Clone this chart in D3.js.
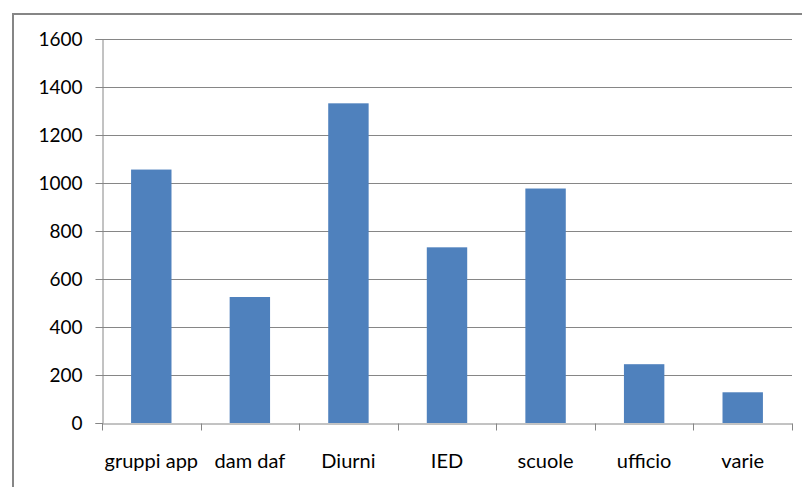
<!DOCTYPE html>
<html>
<head>
<meta charset="utf-8" />
<script src="https://d3js.org/d3.v7.min.js"></script>
<style>
  body { margin: 0; background: #fff; }
  text { font-family: Lato, "Open Sans", sans-serif; fill: #000; }
</style>
</head>
<body>
<svg width="802" height="487"></svg>
<script>
// Data
var categories = ["gruppi app", "dam daf", "Diurni", "IED", "scuole", "ufficio", "varie"];
var values = [1056, 525, 1332, 732, 977, 245, 128];
var yTicks = [0, 200, 400, 600, 800, 1000, 1200, 1400, 1600];

var svg = d3.select("svg");

// outer chart border (runs off the right/bottom edge)
svg.append("rect")
  .attr("x", 13).attr("y", 14)
  .attr("width", 820).attr("height", 500)
  .attr("fill", "#fff")
  .attr("stroke", "#868686")
  .attr("stroke-width", 2);

var margin = { top: 39, left: 102 },
  width = 690,
  height = 384;

var x = d3.scaleBand().domain(categories).range([0, width]).paddingInner(0.59).paddingOuter(0.295);
var xTick = d3.scaleBand().domain(categories).range([0, width]);
var y = d3.scaleLinear().domain([0, 1600]).range([height, 0]);

var g = svg.append("g").attr("transform", "translate(" + margin.left + "," + margin.top + ")");

// gridlines
g.selectAll(".grid")
  .data(yTicks.slice(1))
  .enter().append("line")
  .attr("x1", 0).attr("x2", width)
  .attr("y1", function (d) { return Math.round(y(d)) + 0.5; })
  .attr("y2", function (d) { return Math.round(y(d)) + 0.5; })
  .attr("stroke", "#868686");

// bars
g.selectAll(".bar")
  .data(values)
  .enter().append("rect")
  .attr("x", function (d, i) { return x(categories[i]); })
  .attr("y", function (d) { return y(d); })
  .attr("width", x.bandwidth())
  .attr("height", function (d) { return height - y(d); })
  .attr("fill", "#4F81BD");

// y axis
var yAxis = g.append("g")
  .attr("transform", "translate(0.5,0)")
  .call(d3.axisLeft(y).tickValues(yTicks).tickSize(7).tickPadding(13).tickFormat(d3.format("d")));

// x axis with ticks at band edges
var xAxis = g.append("g")
  .attr("transform", "translate(0," + (height + 0.5) + ")")
  .call(d3.axisBottom(x).tickSize(0).tickPadding(30));
xAxis.selectAll(".edge")
  .data(categories.concat([null]))
  .enter().append("line")
  .attr("x1", function (d, i) { return Math.round(i * xTick.step()) + 0.5; })
  .attr("x2", function (d, i) { return Math.round(i * xTick.step()) + 0.5; })
  .attr("y1", 0).attr("y2", 7)
  .attr("stroke", "#868686");

[yAxis, xAxis].forEach(function (a) {
  a.select(".domain").attr("stroke", "#868686");
  a.selectAll(".tick line").attr("stroke", "#868686");
  a.selectAll("text").style("font-family", "Lato, sans-serif").attr("fill", "#000");
});
yAxis.selectAll("text").style("font-size", "19px");
xAxis.selectAll("text").style("font-size", "20px");
</script>
</body>
</html>
